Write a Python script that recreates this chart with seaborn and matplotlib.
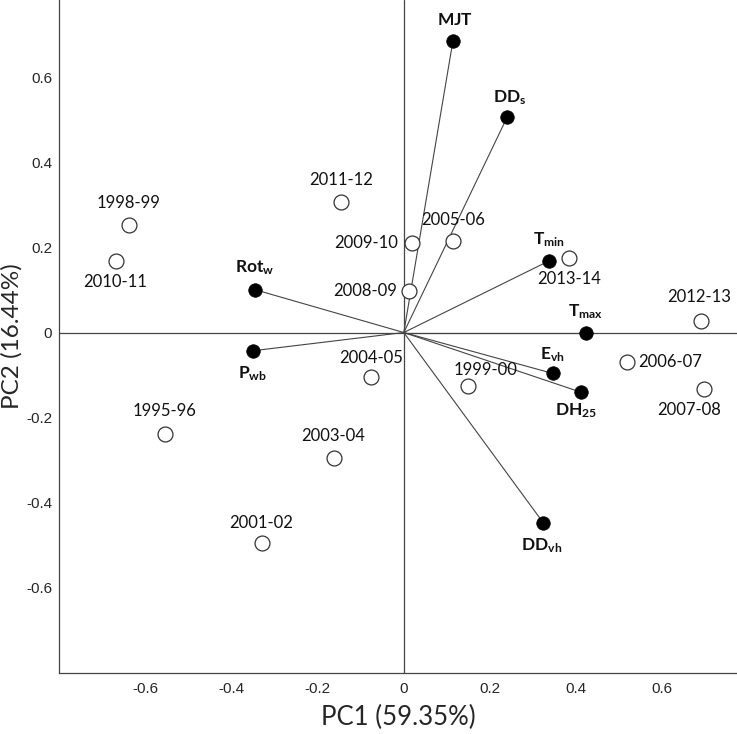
import matplotlib
matplotlib.use('Agg')
import matplotlib.pyplot as plt
import seaborn as sns
import pandas as pd


# ----------------------------------------------Data-----------------------------------------------

# PCA loadings of the variables (filled points)
var_names = [r'$\mathbf{MJT}$', r'$\mathbf{DD_s}$', r'$\mathbf{T_{min}}$', r'$\mathbf{T_{max}}$',
             r'$\mathbf{E_{vh}}$', r'$\mathbf{DH_{25}}$', r'$\mathbf{DD_{vh}}$',
             r'$\mathbf{Rot_w}$', r'$\mathbf{P_{wb}}$']
var_pc1 = [0.114, 0.240, 0.338, 0.422, 0.345, 0.410, 0.324, -0.346, -0.351]
var_pc2 = [0.686, 0.507, 0.169, 0.000, -0.096, -0.140, -0.448, 0.101, -0.043]

# PCA scores of the seasons (open points)
years = ['1998-99', '2010-11', '2011-12', '2009-10', '2005-06', '2008-09', '2013-14', '2012-13',
         '2006-07', '2007-08', '1999-00', '2004-05', '1995-96', '2003-04', '2001-02']
year_pc1 = [-0.638, -0.667, -0.146, 0.018, 0.114, 0.0125, 0.384, 0.689,
            0.518, 0.697, 0.148, -0.075, -0.555, -0.163, -0.330]
year_pc2 = [0.252, 0.169, 0.307, 0.211, 0.216, 0.097, 0.176, 0.028,
            -0.070, -0.133, -0.126, -0.105, -0.239, -0.295, -0.495]

# label placement (pixel offsets, alignment)
var_offsets = [(2, 21, 'center'), (3, 19, 'center'), (0, 21, 'center'), (0, 21, 'center'),
               (0, 19, 'center'), (-4, -19, 'center'), (-2, -23, 'center'),
               (0, 22, 'center'), (0, -23, 'center')]
year_offsets = [(0, 22, 'center'), (-1, -21, 'center'), (0, 22, 'center'), (-13, 0, 'right'),
                (0, 21, 'center'), (-12, 0, 'right'), (0, -21, 'center'), (-2, 24, 'center'),
                (11, 0, 'left'), (-15, -21, 'center'), (18, 16, 'center'), (0, 19, 'center'),
                (0, 23, 'center'), (0, 22, 'center'), (0, 20, 'center')]


# ----------------------------------------------Plot-----------------------------------------------

sns.set_style('white')
plt.rcParams['font.family'] = ['Liberation Sans', 'DejaVu Sans']
plt.rcParams['mathtext.fontset'] = 'custom'
plt.rcParams['mathtext.rm'] = 'Lato'
plt.rcParams['mathtext.bf'] = 'Lato:bold'
plt.rcParams['mathtext.it'] = 'Lato:italic'

fig = plt.figure(figsize=(7.37, 7.34), dpi=100)
ax = fig.add_axes([0.080, 0.0835, 0.920, 0.9165])

# Axis cross through the origin
ax.axhline(0, color='#444444', lw=0.9, zorder=1)
ax.axvline(0, color='#444444', lw=0.9, zorder=1)

# Vectors from the origin to each variable
for x, y in zip(var_pc1, var_pc2):
	ax.plot([0, x], [0, y], color='#444444', lw=0.8, zorder=2)

years_df = pd.DataFrame({'pc1': year_pc1, 'pc2': year_pc2, 'label': years})
vars_df = pd.DataFrame({'pc1': var_pc1, 'pc2': var_pc2, 'label': var_names})

sns.scatterplot(data=years_df, x='pc1', y='pc2', ax=ax, s=115, color='white',
                edgecolor='#333333', linewidth=0.9, zorder=3)
sns.scatterplot(data=vars_df, x='pc1', y='pc2', ax=ax, s=95, color='black',
                edgecolor='black', linewidth=0.5, zorder=4)

px = 0.72  # points per pixel at 100 dpi
for (x, y, lab), (dx, dy, ha) in zip(zip(year_pc1, year_pc2, years), year_offsets):
	ax.annotate(lab, (x, y), xytext=(dx * px, dy * px), textcoords='offset points',
	            ha=ha, va='center', fontsize=12, family='Lato', color='#111111')

for (x, y, lab), (dx, dy, ha) in zip(zip(var_pc1, var_pc2, var_names), var_offsets):
	ax.annotate(lab, (x, y), xytext=(dx * px, dy * px), textcoords='offset points',
	            ha=ha, va='center', fontsize=12.5, color='#111111')

# Axes
ax.set_xlim(-0.8, 0.773)
ax.set_ylim(-0.8, 0.782)
ax.set_xticks([-0.6, -0.4, -0.2, 0, 0.2, 0.4, 0.6])
ax.set_xticklabels(['-0.6', '-0.4', '-0.2', '0', '0.2', '0.4', '0.6'])
ax.set_yticks([-0.6, -0.4, -0.2, 0, 0.2, 0.4, 0.6])
ax.set_yticklabels(['-0.6', '-0.4', '-0.2', '0', '0.2', '0.4', '0.6'])
ax.tick_params(axis='x', direction='in', length=5, width=0.8, labelsize=11, pad=7, color='#444444')
ax.tick_params(axis='y', direction='out', length=3, width=0.8, labelsize=11, pad=2, color='#444444')
ax.set_xlabel('PC1 (59.35%)', fontsize=18.5, family='Lato', labelpad=6)
ax.set_ylabel('PC2 (16.44%)', fontsize=17.5, family='Lato', va='center')
ax.yaxis.set_label_coords(-0.069, 0.5)

sns.despine(ax=ax, top=True, right=True)
for side in ['left', 'bottom']:
	ax.spines[side].set_color('#444444')
	ax.spines[side].set_linewidth(0.9)

fig.savefig('out.png', dpi=100)
